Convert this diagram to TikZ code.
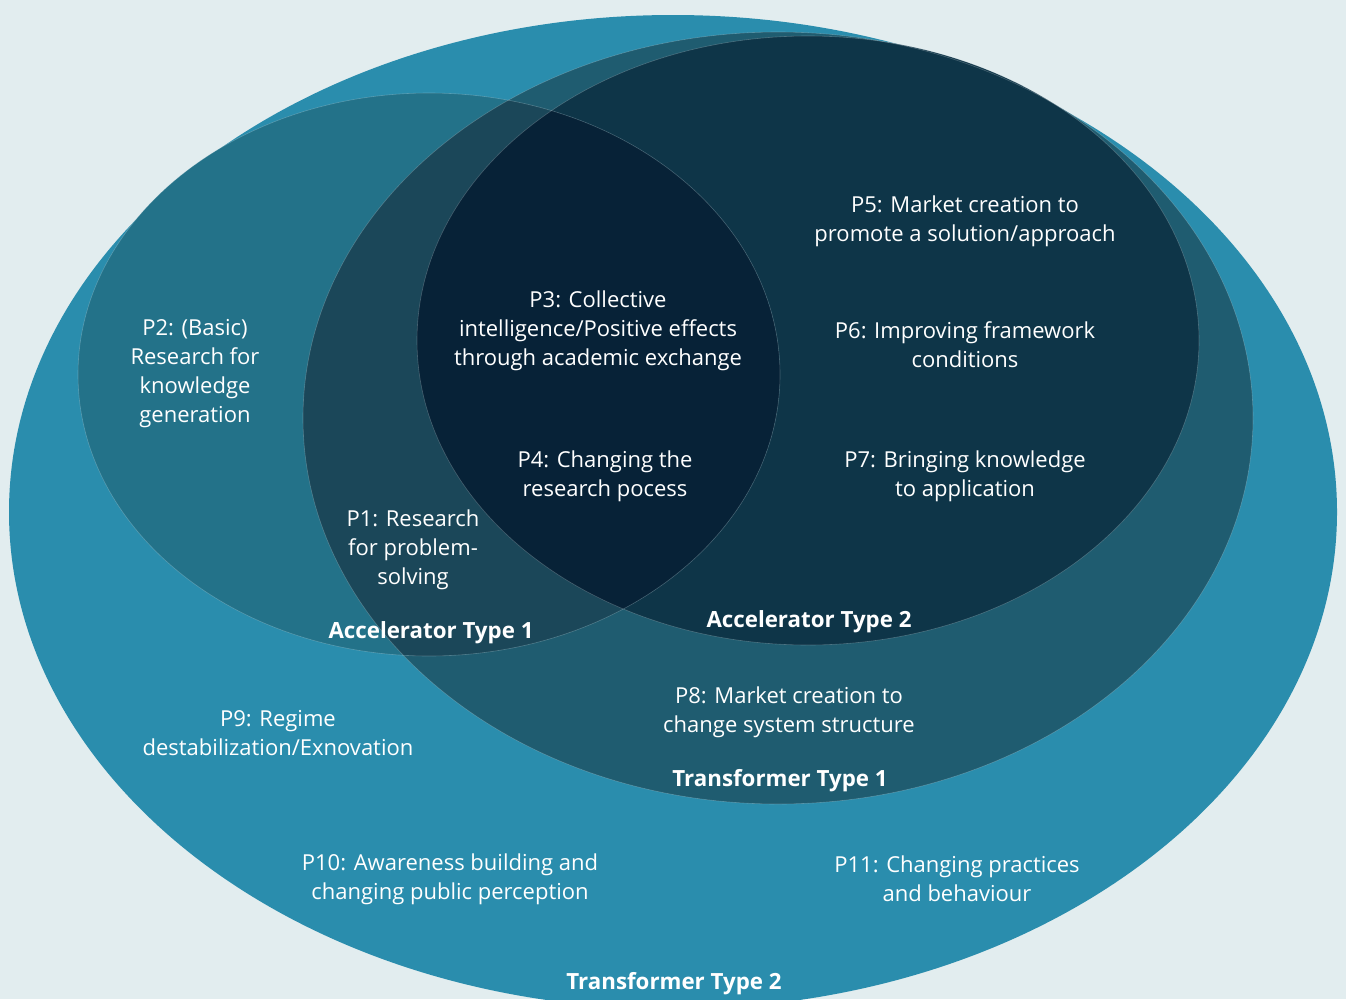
\documentclass[tikz,border=0pt]{standalone}
\usepackage{fontspec}
\setmainfont{Open Sans}
\definecolor{bgc}{HTML}{E2EDEF}
\definecolor{ttwo}{HTML}{2A8DAD}
\definecolor{tone}{HTML}{1F5C70}
\definecolor{atwo}{HTML}{0E3548}
\definecolor{aoneA}{HTML}{237289}
\definecolor{aoneB}{HTML}{1B4759}
\definecolor{aboth}{HTML}{072237}
\begin{document}
\begin{tikzpicture}[x=1pt,y=-1pt,
  lbl/.style={text=white, align=center, inner sep=0pt, font=\fontsize{22}{29}\selectfont},
  ttl/.style={text=white, inner sep=0pt, font=\bfseries\fontsize{22.3}{26}\selectfont},
  edge/.style={draw=white, draw opacity=0.22, line width=0.6pt}]
\def\TTtwo{(673,512) ellipse [x radius=664pt, y radius=497pt]}
\def\TTone{(778,418) ellipse [x radius=475pt, y radius=386pt]}
\def\AccTwo{(808,340.5) ellipse [x radius=391pt, y radius=304.5pt]}
\def\AccOne{(429,374.5) ellipse [x radius=351pt, y radius=281.5pt]}
\useasboundingbox (0,0) rectangle (1346,999);
\clip (0,0) rectangle (1346,999);
\fill[bgc] (0,0) rectangle (1346,999);
\fill[ttwo] \TTtwo;
\fill[tone] \TTone;
\fill[atwo] \AccTwo;
\begin{scope}
  \clip \AccOne;
  \fill[aoneA] \AccOne;
  \begin{scope}
    \clip \TTone;
    \fill[aoneB] \AccOne;
  \end{scope}
  \begin{scope}
    \clip \AccTwo;
    \fill[aboth] \AccOne;
  \end{scope}
\end{scope}
\path[edge] \TTone;
\path[edge] \AccTwo;
\path[edge] \AccOne;

\node[lbl] (p2) at (195,374) {P2: (Basic)\\Research for\\knowledge\\generation};
\node[lbl] (p1) at (413,550) {P1: Research\\for problem-\\solving};
\node[lbl] (p3) at (598,330.5) {P3: Collective\\intelligence/Positive effects\\through academic exchange};
\node[lbl] (p4) at (605,476) {P4: Changing the\\research pocess};
\node[lbl] (p5) at (965,221) {P5: Market creation to\\promote a solution/approach};
\node[lbl] (p6) at (965,344.5) {P6: Improving framework\\conditions};
\node[lbl] (p7) at (965,476) {P7: Bringing knowledge\\to application};
\node[ttl] (a1) at (431,633) {Accelerator Type 1};
\node[ttl] (a2) at (809,622) {Accelerator Type 2};
\node[lbl] (p8) at (789,712) {P8: Market creation to\\change system structure};
\node[ttl] (t1) at (780,781) {Transformer Type 1};
\node[lbl] (p9) at (278,733) {P9: Regime\\destabilization/Exnovation};
\node[lbl] (p10) at (450,879) {P10: Awareness building and\\changing public perception};
\node[lbl] (p11) at (957,879) {P11: Changing practices\\and behaviour};
\node[ttl] (t2) at (674,984) {Transformer Type 2};
\end{tikzpicture}
\end{document}
